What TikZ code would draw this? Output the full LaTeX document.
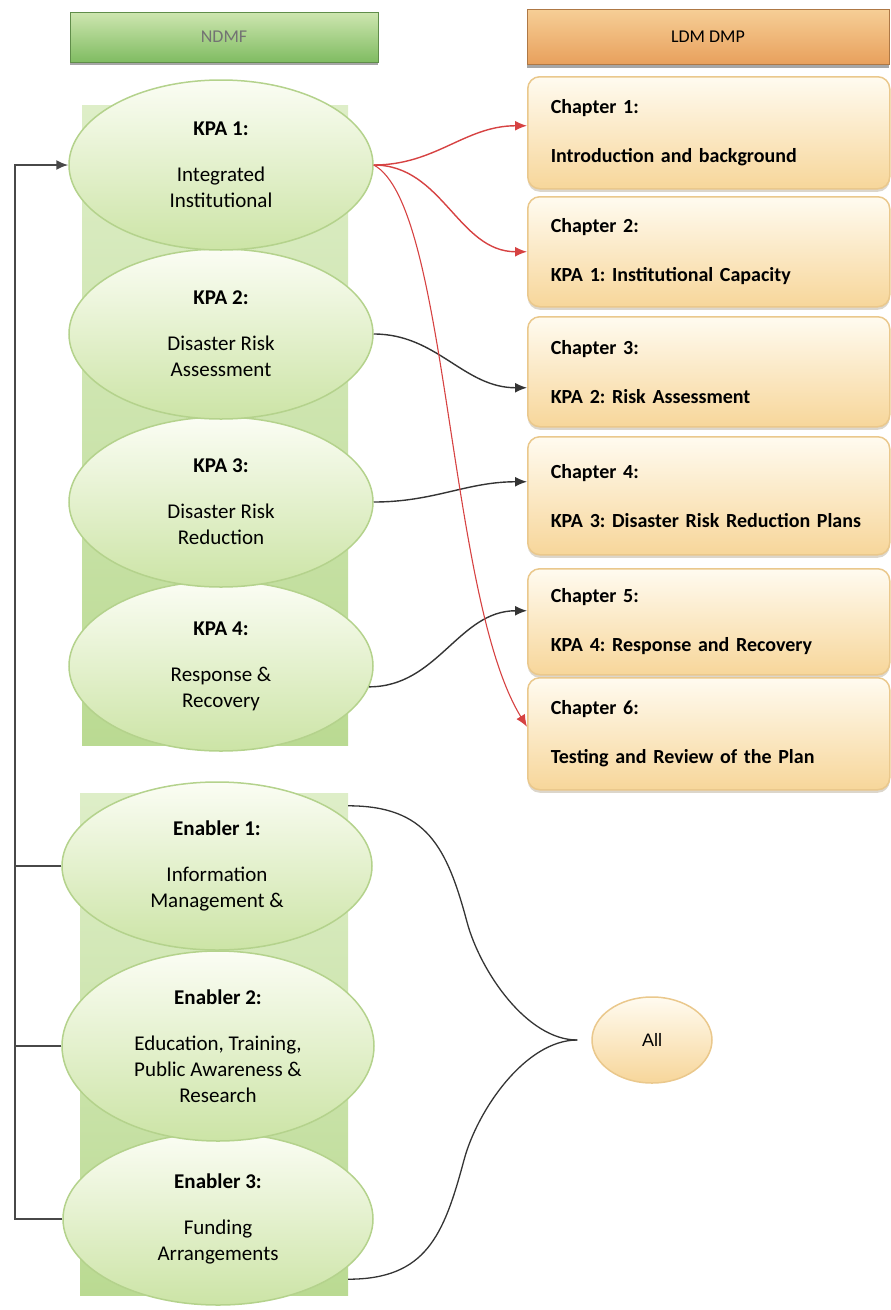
\documentclass[tikz,border=0pt]{standalone}
\usepackage{fontspec}
\setmainfont{Carlito}
\newfontfamily\arialfont{Liberation Sans}
\frenchspacing
\usepackage{tikz}
\usetikzlibrary{shapes.geometric}
\usetikzlibrary{shadows}
\usetikzlibrary{arrows.meta}
\usetikzlibrary{positioning}
\definecolor{leafline}{RGB}{180, 210, 140}
\definecolor{leaftop}{RGB}{251, 253, 244}
\definecolor{leafbot}{RGB}{204, 228, 166}
\definecolor{stemtop}{RGB}{222, 238, 200}
\definecolor{stembot}{RGB}{186, 218, 146}
\definecolor{headtop}{RGB}{206, 230, 176}
\definecolor{headbot}{RGB}{128, 188, 98}
\definecolor{sandline}{RGB}{234, 200, 140}
\definecolor{sandtop}{RGB}{255, 251, 240}
\definecolor{sandbot}{RGB}{247, 214, 154}
\definecolor{peeltop}{RGB}{246, 206, 150}
\definecolor{peelbot}{RGB}{232, 160, 92}
\definecolor{linkred}{RGB}{214, 66, 66}
\definecolor{linkgrey}{RGB}{52, 52, 52}

\tikzset{
  kpa/.style={ellipse, draw=leafline, line width=1.5pt, top color=leaftop, bottom color=leafbot,
              minimum width=304pt, minimum height=170pt, inner sep=0pt, align=center,
              font=\fontsize{21}{26}\selectfont},
  stem/.style={rectangle, top color=stemtop, bottom color=stembot, inner sep=0pt},
  headbox/.style={rectangle, draw=#1!75!black, line width=1pt, inner sep=0pt,
                  drop shadow={shadow xshift=0pt, shadow yshift=-3pt, fill=black, opacity=.35},
                  font=\fontsize{18}{22}\selectfont},
  chapbox/.style={rectangle, rounded corners=12pt, draw=sandline, line width=1.5pt,
                  top color=sandtop, bottom color=sandbot, minimum width=362pt, text width=316pt,
                  inner xsep=22pt, align=left, anchor=north west,
                  drop shadow={shadow xshift=0pt, shadow yshift=-3pt, fill=sandline!60!black, opacity=.3},
                  font=\bfseries\fontsize{20}{26}\selectfont},
  allnode/.style={ellipse, draw=sandline, line width=1.5pt, top color=sandtop, bottom color=sandbot,
                  minimum width=120pt, minimum height=86pt, font=\arialfont\fontsize{18}{22}\selectfont},
  redlink/.style={draw=linkred, line width=1.4pt, -{Latex[length=12pt, width=10pt]}},
  greylink/.style={draw=linkgrey, line width=1.4pt, -{Latex[length=12pt, width=10pt]}},
  railline/.style={draw=linkgrey!90, line width=1.8pt},
  bracelink/.style={draw=linkgrey, line width=1.3pt}
}

\begin{document}
\begin{tikzpicture}[x=1pt, y=1pt]
\useasboundingbox (0,0) rectangle (891,-1310);

\node[headbox=headbot, top color=headtop, bottom color=headbot, minimum width=308pt, minimum height=50pt, text=black!55] (ndmf) at (224,-37) {NDMF};
\node[headbox=peelbot, top color=peeltop, bottom color=peelbot, minimum width=362pt, minimum height=55pt] (ldm) at (708,-37) {LDM DMP};

\node[stem, minimum width=266pt, minimum height=640pt] (kpabg) at (215,-425) {};
\node[stem, minimum width=268pt, minimum height=502pt] (enbg) at (214,-1044) {};

\node[kpa] (kpa4) at (221,-666) {\textbf{KPA 4:}\\[20pt]Response \&\\Recovery};
\node[kpa] (kpa3) at (221,-502) {\textbf{KPA 3:}\\[20pt]Disaster Risk\\Reduction};
\node[kpa] (kpa2) at (221,-334) {\textbf{KPA 2:}\\[20pt]Disaster Risk\\Assessment};
\node[kpa] (kpa1) at (221,-165) {\textbf{KPA 1:}\\[20pt]Integrated\\Institutional};

\node[kpa, minimum width=310pt, minimum height=172pt] (en3) at (218,-1219) {\textbf{Enabler 3:}\\[20pt]Funding\\Arrangements};
\node[kpa, minimum width=312pt, minimum height=190pt] (en2) at (218,-1046) {\textbf{Enabler 2:}\\[20pt]Education, Training,\\Public Awareness \&\\Research};
\node[kpa, minimum width=310pt, minimum height=168pt] (en1) at (217,-866) {\textbf{Enabler 1:}\\[20pt]Information\\Management \&};

\node[chapbox, minimum height=112pt] (ch1) at (527,-76) {Chapter 1:\\[23pt]Introduction and background};
\node[chapbox, minimum height=110pt] (ch2) at (527,-196) {Chapter 2:\\[23pt]KPA 1: Institutional Capacity};
\node[chapbox, minimum height=110pt] (ch3) at (527,-316) {Chapter 3:\\[23pt]KPA 2: Risk Assessment};
\node[chapbox, minimum height=118pt] (ch4) at (527,-436) {Chapter 4:\\[23pt]KPA 3: Disaster Risk Reduction Plans};
\node[chapbox, minimum height=106pt] (ch5) at (527,-568) {Chapter 5:\\[23pt]KPA 4: Response and Recovery};
\node[chapbox, minimum height=112pt] (ch6) at (527,-677) {Chapter 6:\\[23pt]Testing and Review of the Plan};

\node[allnode] (all) at (652,-1040) {All};

\coordinate (rail) at (15,0);
\draw[railline, -{Latex[length=12pt, width=10pt]}] (en3.west) -| (rail |- kpa1.west) -- (kpa1.west);
\draw[railline] (en1.west) -- (en1.west -| rail);
\draw[railline] (en2.west) -- (en2.west -| rail);

\draw[greylink] (kpa2.east) to[out=0, in=180] ([yshift=-16pt]ch3.west);
\draw[greylink] (kpa3.east) to[out=0, in=180] ([yshift=14pt]ch4.west);
\draw[greylink] (kpa4.-8) to[out=0, in=180] ([yshift=11pt]ch5.west);

\draw[redlink] (kpa1.east) to[out=0, in=180] ([yshift=7pt]ch1.west);
\draw[redlink] (kpa1.east) to[out=0, in=180] (ch2.west);
\draw[redlink, line width=1.1pt] (kpa1.east) .. controls +(75,-40) and +(-80,130) .. ([yshift=7pt]ch6.west);

\coordinate (bracetop) at ([yshift=-13pt]enbg.north east);
\coordinate (bracebot) at ([yshift=16pt]enbg.south east);
\coordinate (bracetip) at ([xshift=-14pt]all.west);
\coordinate (bracemid1) at (467,-922);
\coordinate (bracemid2) at (464,-1160);
\draw[bracelink] (bracetop) to[out=0, in=105, looseness=1.2] (bracemid1) to[out=-75, in=180, looseness=0.8] (bracetip);
\draw[bracelink] (bracebot) to[out=0, in=-105, looseness=1.2] (bracemid2) to[out=75, in=180, looseness=0.8] (bracetip);
\end{tikzpicture}
\end{document}
